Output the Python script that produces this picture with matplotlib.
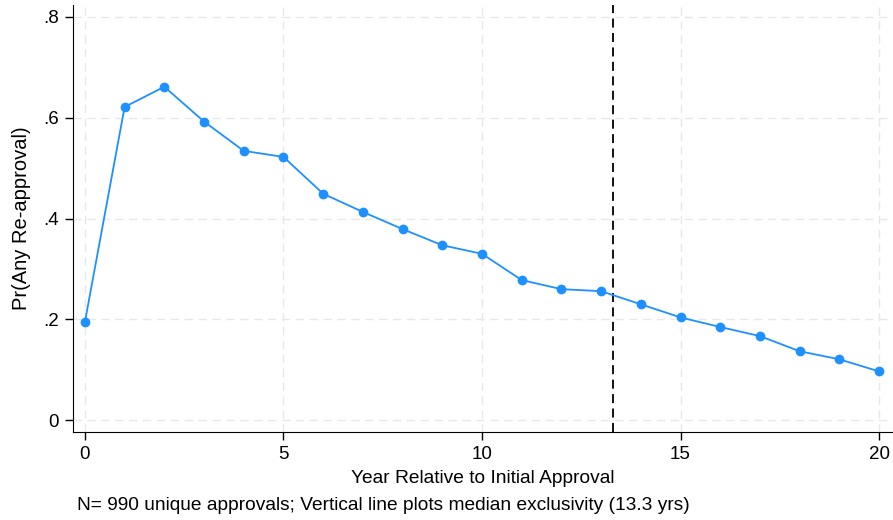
import matplotlib.pyplot as plt

# --- data ---
years = list(range(21))
pr_reapproval = [0.195, 0.621, 0.661, 0.592, 0.534, 0.522, 0.449, 0.413, 0.379, 0.347, 0.330,
                 0.278, 0.260, 0.256, 0.230, 0.204, 0.185, 0.167, 0.137, 0.121, 0.097]
median_excl = 13.3
y_ticks = [0, 0.2, 0.4, 0.6, 0.8]
y_ticklabels = ['0', '.2', '.4', '.6', '.8']
x_ticks = [0, 5, 10, 15, 20]

plt.rcParams['font.family'] = ['Liberation Sans', 'DejaVu Sans']

fig = plt.figure(figsize=(8.93, 5.20), dpi=100)
ax = fig.add_axes([73 / 893, 88 / 520, 820 / 893, 427 / 520])

ax.plot(years, pr_reapproval, '-o', color='#1E90FF', lw=1.3, ms=6, zorder=3)
ax.axvline(median_excl, color='black', ls=(0, (5, 3)), lw=1.3, zorder=2)

ax.set_xlim(-0.3, 20.35)
ax.set_ylim(-0.023, 0.823)
ax.set_xticks(x_ticks)
ax.set_yticks(y_ticks)
ax.set_yticklabels(y_ticklabels)
ax.grid(True, color='#E8E8E8', ls=(0, (6, 4)), lw=1)
ax.set_axisbelow(True)

for s in ['top', 'right']:
    ax.spines[s].set_visible(False)
ax.tick_params(direction='out', length=6, width=1, labelsize=13.5, pad=4)

ax.set_xlabel('Year Relative to Initial Approval', fontsize=13.8, labelpad=5)
ax.set_ylabel('Pr(Any Re-approval)', fontsize=14.5, labelpad=9)
fig.text(77 / 893, 1 - 506 / 520, 'N= 990 unique approvals; Vertical line plots median exclusivity (13.3 yrs)',
         fontsize=13.8, ha='left', va='center')

plt.savefig('out.png', dpi=100)
plt.close()
